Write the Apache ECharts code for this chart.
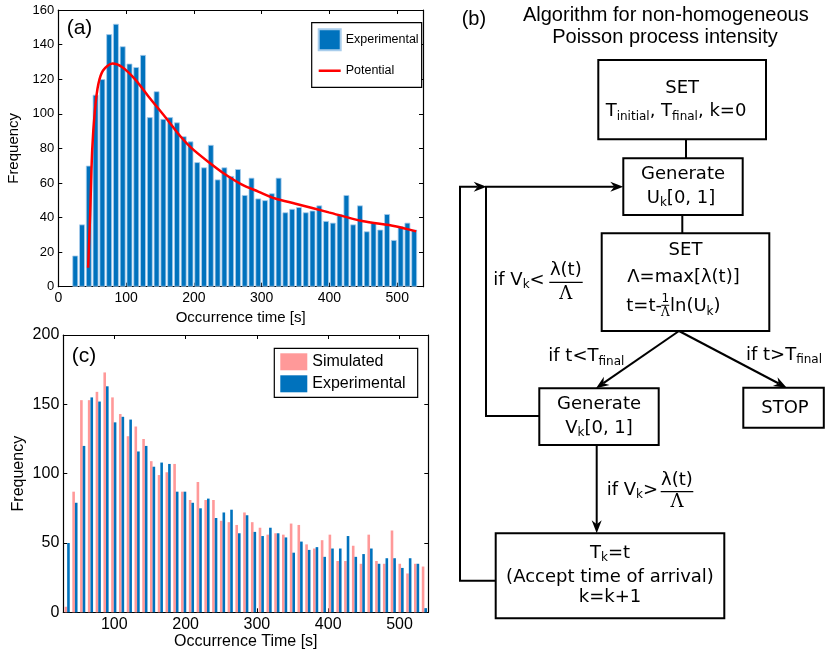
<!DOCTYPE html>
<html><head><meta charset="utf-8">
<script src="https://cdn.jsdelivr.net/npm/echarts@6/dist/echarts.min.js"></script>
<style>html,body{margin:0;padding:0;background:#fff}#c{width:825px;height:656px}</style>
</head><body><div id="c"></div>
<script>
// ---------- Panel (a) data ----------
const aBinCenters = [25,35,45,55,65,75,85,95,105,115,125,135,145,155,165,175,185,195,205,215,225,235,245,255,265,275,285,295,305,315,325,335,345,355,365,375,385,395,405,415,425,435,445,455,465,475,485,495,505,515,525];
const aFrequency = [18,36,70,111,120,146,152,139,129,127,134,98,113,97,98,95,87,84,72,69,82,62,69,64,68,53,63,51,50,54,63,43,45,46,43,44,47,38,37,42,53,36,47,32,37,33,42,27,35,37,33];
const potentialTime = [44,47,50,54,59,66,80,94,113,133,158,180,197,222,246,271,295,320,350,399,448,497,528];
const potentialValue = [11,42,79,102,117,125,129,127,120,110,98,87,80,72,65,59,55,51,48,43,38,35,32];
const aXTicks = [0,100,200,300,400,500];

// ---------- Panel (c) data ----------
const cBinCenters = [33.9,44.8,55.7,66.6,77.5,88.4,99.3,110.2,121.1,132.0,142.9,153.7,164.6,175.5,186.4,197.3,208.2,219.1,230.0,240.9,251.8,262.6,273.5,284.4,295.3,306.2,317.1,328.0,338.9,349.8,360.6,371.5,382.4,393.3,404.2,415.1,426.0,436.9,447.8,458.7,469.5,480.4,491.3,502.2,513.1,524.0,534.9];
const cSimulated = [4,87,153,153,159,173,155,143,127,134,125,109,99,101,107,87,81,94,81,81,66,65,63,72,65,61,56,57,56,64,63,49,46,52,56,37,37,48,35,56,37,35,59,35,28,35,33];
const cExperimental = [50,79,120,155,152,163,137,141,139,116,120,105,108,107,87,87,79,75,82,68,72,74,57,70,58,55,61,57,54,43,51,45,47,40,46,46,55,40,42,46,35,39,39,32,39,35,3];
const cXTicks = [100,200,300,400,500];

const SANS = 'Liberation Sans';
const FLOW = 'DejaVu Sans';
const BLUE = '#0072BD';
const PINK = '#FF9999';

function xAx(grid, min, max, ticks, pos, fs, name, gap, nfs) {
  const o = {
    gridIndex: grid, type: 'value', min: min, max: max, position: pos,
    axisLine: {show: true, onZero: false, lineStyle: {color: '#000', width: 1.2}},
    axisTick: {show: true, inside: true, length: 4, customValues: ticks, lineStyle: {color: '#000', width: 1}},
    axisLabel: {show: pos === 'bottom', customValues: ticks, color: '#000', fontSize: fs, fontFamily: SANS, margin: 4},
    splitLine: {show: false}
  };
  if (name) { o.name = name; o.nameLocation = 'middle'; o.nameGap = gap; o.nameTextStyle = {color: '#000', fontSize: nfs, fontFamily: SANS}; }
  return o;
}
function yAx(grid, max, interval, pos, fs, name, gap, nfs) {
  const o = {
    gridIndex: grid, type: 'value', min: 0, max: max, interval: interval, position: pos,
    axisLine: {show: true, onZero: false, lineStyle: {color: '#000', width: 1.2}},
    axisTick: {show: true, inside: true, length: 4, lineStyle: {color: '#000', width: 1}},
    axisLabel: {show: pos === 'left', color: '#000', fontSize: fs, fontFamily: SANS, margin: 4},
    splitLine: {show: false}
  };
  if (name) { o.name = name; o.nameLocation = 'middle'; o.nameGap = gap; o.nameTextStyle = {color: '#000', fontSize: nfs, fontFamily: SANS}; }
  return o;
}

// ---------- flowchart helpers ----------
const G = [];
function rect(x, y, w, h) { G.push({type: 'rect', shape: {x: x, y: y, width: w, height: h}, style: {fill: '#fff', stroke: '#000', lineWidth: 2}}); }
function line(pts, lw) { G.push({type: 'polyline', shape: {points: pts}, style: {fill: null, stroke: '#000', lineWidth: lw || 2}}); }
function arrow(pts) {
  const tip = pts[pts.length - 1], from = pts[pts.length - 2];
  const dx = tip[0] - from[0], dy = tip[1] - from[1], len = Math.hypot(dx, dy);
  const ux = dx / len, uy = dy / len, px = -uy, py = ux;
  const L = 13, W = 5, N = 4;
  const bx = tip[0] - ux * L, by = tip[1] - uy * L;
  const nx = tip[0] - ux * (L - N), ny = tip[1] - uy * (L - N);
  const p = pts.slice(0, -1).concat([[nx, ny]]);
  line(p);
  G.push({type: 'polygon', shape: {points: [tip, [bx + px * W, by + py * W], [nx, ny], [bx - px * W, by - py * W]]}, style: {fill: '#000'}});
}
const RICH = {
  n: {fontSize: 18, fontFamily: FLOW, lineHeight: 22, fill: '#000'},
  s: {fontSize: 12, fontFamily: FLOW, lineHeight: 14, verticalAlign: 'bottom', fill: '#000'}
};
function txt(x, y, t, align, size, family) {
  G.push({type: 'text', x: x, y: y, style: {text: t, fontSize: size || 18, fontFamily: family || FLOW, fill: '#000', align: align || 'center', verticalAlign: 'middle', rich: RICH}});
}

// title
txt(461.7, 19, '(b)', 'left', 20, SANS);
txt(665.8, 15, 'Algorithm for non-homogeneous', 'center', 20, SANS);
txt(665, 37, 'Poisson process intensity', 'center', 20, SANS);

// boxes
rect(598.3, 60, 167.7, 79.3);
rect(623.3, 158.3, 119.4, 56.7);
rect(601.7, 233.3, 167.6, 97.7);
rect(539.3, 388.3, 119.4, 56.7);
rect(743.3, 387.7, 80.5, 40);
rect(495.7, 533.3, 228.6, 85);

// connectors
line([[686, 139.3], [686, 158.3]]);
line([[682.3, 215], [682.3, 233.3]]);
arrow([[679, 331], [596, 388.3]]);
arrow([[679, 331], [786.7, 387.7]]);
arrow([[596.7, 445], [596.7, 533.3]]);
arrow([[539.3, 416], [486, 416], [486, 186.7], [623.3, 186.7]]);
arrow([[495.7, 580.7], [460, 580.7], [460, 186.7], [486.7, 186.7]]);

// box texts
txt(682.2, 88.3, 'SET');
txt(676, 111.7, '{n|T}{s|initial}{n|, T}{s|final}{n|, k=0}');
txt(683, 174, 'Generate');
txt(681, 198.3, '{n|U}{s|k}{n|[0, 1]}');
txt(685.5, 250.7, 'SET');
txt(683.5, 277.5, 'Λ=max[λ(t)]');
txt(662, 306.7, 't=t-', 'right');
txt(665.3, 298.5, '1', 'center', 12);
line([[661.3, 305.3], [669.3, 305.3]], 1);
txt(665.3, 312.5, 'Λ', 'center', 12, 'DejaVu Serif');
txt(670, 306.7, '{n|ln(U}{s|k}{n|)}', 'left');
txt(599, 404.3, 'Generate');
txt(599, 428.3, '{n|V}{s|k}{n|[0, 1]}');
txt(785, 408.3, 'STOP');
txt(610, 553.3, '{n|T}{s|k}{n|=t}');
txt(610, 577, '(Accept time of arrival)');
txt(610, 597.5, 'k=k+1');

// condition labels
txt(493.3, 280, '{n|if V}{s|k}{n|<}', 'left');
txt(565.8, 270, 'λ(t)');
line([[549.3, 282.3], [582.7, 282.3]], 1.3);
txt(565.8, 294, 'Λ', 'center', 18, 'DejaVu Serif');
txt(548.3, 356.7, '{n|if t<T}{s|final}', 'left');
txt(746, 355, '{n|if t>T}{s|final}', 'left');
txt(606.7, 490, '{n|if V}{s|k}{n|>}', 'left');
txt(677, 480, 'λ(t)');
line([[660.7, 491.7], [693.3, 491.7]], 1.3);
txt(677, 502.5, 'Λ', 'center', 18, 'DejaVu Serif');

// panel labels
G.push({type: 'text', x: 66.7, y: 28.3, style: {text: '(a)', fontSize: 21, fontFamily: SANS, fill: '#000', align: 'left', verticalAlign: 'middle'}});
G.push({type: 'text', x: 71.7, y: 356, style: {text: '(c)', fontSize: 21, fontFamily: SANS, fill: '#000', align: 'left', verticalAlign: 'middle'}});

// legend icon for the fitted curve: a thin horizontal stroke spanning the item box
const LINE_ICON = 'path://M0,0h0.01v0.01h-0.01Z M0,9.25h22v2.5h-22Z M21.99,20.99h0.01v0.01h-0.01Z';

const chart = echarts.init(document.getElementById('c'), null, {renderer: 'canvas'});
chart.setOption({
  animation: false,
  backgroundColor: '#fff',
  textStyle: {fontFamily: SANS},
  grid: [
    {left: 58.3, top: 10, width: 364.7, height: 276.7},
    {left: 63.3, top: 335, width: 365, height: 277.3}
  ],
  xAxis: [
    xAx(0, 0, 538, aXTicks, 'bottom', 14, 'Occurrence time [s]', 24, 15),
    xAx(0, 0, 538, aXTicks, 'top'),
    xAx(1, 28.5, 540.4, cXTicks, 'bottom', 16, 'Occurrence Time [s]', 21, 16),
    xAx(1, 28.5, 540.4, cXTicks, 'top')
  ],
  yAxis: [
    yAx(0, 160, 20, 'left', 13, 'Frequency', 37, 15),
    yAx(0, 160, 20, 'right'),
    yAx(1, 200, 50, 'left', 16, 'Frequency', 37, 16),
    yAx(1, 200, 50, 'right')
  ],
  legend: [
    {
      left: 311.7, top: 22.7, orient: 'vertical', itemWidth: 22, itemHeight: 21, itemGap: 9,
      padding: [5.6, 3, 6, 6], backgroundColor: '#fff', borderColor: '#000', borderWidth: 1.2, borderRadius: 0,
      textStyle: {fontSize: 12.5, fontFamily: SANS, color: '#000'},
      data: [{name: 'Experimental', icon: 'rect'}, {name: 'Potential', icon: LINE_ICON, itemStyle: {color: '#ff0000', borderWidth: 0}}],
      selectedMode: false
    },
    {
      left: 274.3, top: 348.3, orient: 'vertical', itemWidth: 27, itemHeight: 17, itemGap: 5,
      padding: [5, 12, 5, 6], backgroundColor: '#fff', borderColor: '#000', borderWidth: 1.2, borderRadius: 0,
      textStyle: {fontSize: 16, fontFamily: SANS, color: '#000'},
      data: [{name: 'Simulated', icon: 'rect'}, {name: 'Experimental', icon: 'rect', itemStyle: {borderWidth: 0}}], selectedMode: false
    }
  ],
  series: [
    {
      name: 'Experimental', type: 'bar', xAxisIndex: 0, yAxisIndex: 0,
      data: aBinCenters.map((x, i) => [x, aFrequency[i]]),
      barWidth: 5.8, itemStyle: {color: BLUE, borderColor: '#a9cdec', borderWidth: 0.8}
    },
    {
      name: 'Potential', type: 'line', xAxisIndex: 0, yAxisIndex: 0,
      data: potentialTime.map((t, i) => [t, potentialValue[i]]),
      smooth: 0.3, symbol: 'none', showSymbol: false, z: 5,
      lineStyle: {color: '#ff0000', width: 2.5}, itemStyle: {color: '#ff0000'}
    },
    {
      name: 'Simulated', type: 'bar', xAxisIndex: 2, yAxisIndex: 2,
      data: cBinCenters.map((x, i) => [x, cSimulated[i]]),
      barWidth: 2.6, barGap: '0%', itemStyle: {color: PINK}
    },
    {
      name: 'Experimental', type: 'bar', xAxisIndex: 2, yAxisIndex: 2,
      data: cBinCenters.map((x, i) => [x, cExperimental[i]]),
      barWidth: 2.6, barGap: '0%', itemStyle: {color: BLUE}
    }
  ],
  graphic: G
});
</script>
</body></html>
